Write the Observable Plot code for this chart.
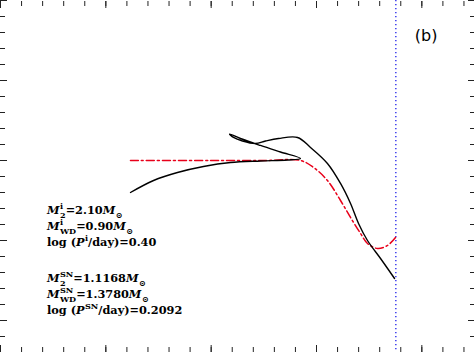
<!DOCTYPE html>
<html>
<head>
<meta charset="utf-8">
<script src="https://cdn.jsdelivr.net/npm/d3@7"></script>
<script src="https://cdn.jsdelivr.net/npm/@observablehq/plot@0.6"></script>
<style>
  html, body { margin: 0; padding: 0; background: #fff; }
  #chart { width: 474px; height: 352px; overflow: hidden; }
</style>
</head>
<body>
<div id="chart"></div>
<script>
// ---- data ----
const blackX = [1.234, 1.453, 1.680, 1.927, 2.184, 2.468, 2.725, 2.848, 2.658, 2.468, 2.278, 2.174, 2.212, 2.297, 2.421, 2.516, 2.639, 2.820, 2.943, 3.104, 3.228, 3.323, 3.399, 3.484, 3.608, 3.741];
const blackY = [1.600, 1.750, 1.850, 1.925, 1.975, 1.994, 2.006, 2.025, 2.106, 2.188, 2.275, 2.331, 2.288, 2.244, 2.213, 2.244, 2.275, 2.288, 2.163, 1.963, 1.713, 1.463, 1.213, 1.000, 0.775, 0.525];
const redX = [1.234, 2.000, 2.500, 2.848, 2.972, 3.104, 3.228, 3.323, 3.418, 3.484, 3.579, 3.674, 3.750];
const redY = [2.000, 2.000, 2.000, 2.000, 1.913, 1.750, 1.500, 1.288, 1.088, 0.963, 0.900, 0.938, 1.038];
const snX = [3.753];
const xMajor = [0, 1, 2, 3, 4];
const xMinor = [0, 0.2, 0.4, 0.6, 0.8, 1, 1.2, 1.4, 1.6, 1.8, 2, 2.2, 2.4, 2.6, 2.8, 3, 3.2, 3.4, 3.6, 3.8, 4, 4.2, 4.4];
const yMajor = [0, 1, 2, 3, 4];
const yMinor = [-0.4, -0.2, 0, 0.2, 0.4, 0.6, 0.8, 1, 1.2, 1.4, 1.6, 1.8, 2, 2.2, 2.4, 2.6, 2.8, 3, 3.2, 3.4, 3.6, 3.8, 4];
const panelLabel = "(b)";
// text segments: [text, kind]  kind: "" plain, "it" italic, "sup", "sub"
const initialLines = [
  [["M", "it"], ["i", "sup"], ["2", "sub"], ["=2.10", ""], ["M", "it"], ["\u2299", "sub"]],
  [["M", "it"], ["i", "sup"], ["WD", "sub"], ["=0.90", ""], ["M", "it"], ["\u2299", "sub"]],
  [["log (", ""], ["P", "it"], ["i", "sup"], ["/day)=0.40", ""]]
];
const snLines = [
  [["M", "it"], ["SN", "sup"], ["2", "sub"], ["=1.1168", ""], ["M", "it"], ["\u2299", "sub"]],
  [["M", "it"], ["SN", "sup"], ["WD", "sub"], ["=1.3780", ""], ["M", "it"], ["\u2299", "sub"]],
  [["log (", ""], ["P", "it"], ["SN", "sup"], ["/day)=0.2092", ""]]
];

const black = blackX.map((x, i) => ({x, y: blackY[i]}));
const red = redX.map((x, i) => ({x, y: redY[i]}));

const tickAxes = [];
for (const [ticks, size] of [[xMinor, -5], [xMajor, -7]]) {
  for (const anchor of ["top", "bottom"]) {
    tickAxes.push(Plot.axisX(ticks, {anchor, tickSize: size, tickFormat: () => "", label: null, stroke: "#222", strokeWidth: 1}));
  }
}
for (const [ticks, size] of [[yMinor, -5], [yMajor, -7]]) {
  for (const anchor of ["left", "right"]) {
    tickAxes.push(Plot.axisY(ticks, {anchor, tickSize: size, tickFormat: () => "", label: null, stroke: "#222", strokeWidth: 1}));
  }
}

const chart = Plot.plot({
  width: 474,
  height: 352,
  marginTop: 0, marginBottom: 0, marginLeft: 0, marginRight: 0,
  style: {background: "#fff", overflow: "hidden"},
  x: {domain: [0, 4.5]},
  y: {domain: [-0.4, 4]},
  marks: [
    ...tickAxes,
    Plot.ruleX(snX, {stroke: "#3c3cec", strokeWidth: 1.5, strokeDasharray: "1.2,2.8"}),
    Plot.line(red, {x: "x", y: "y", stroke: "#e8001a", strokeWidth: 1.5, strokeDasharray: "8,3,2,3", curve: "catmull-rom"}),
    Plot.line(black, {x: "x", y: "y", stroke: "#000", strokeWidth: 1.4, curve: "catmull-rom"}),
    Plot.text([panelLabel], {x: 4.04, y: 3.49, text: d => d, fontSize: 16, fontFamily: "DejaVu Sans", fill: "#000", textAnchor: "middle", lineAnchor: "bottom"})
  ]
});
document.getElementById("chart").append(chart);

// annotation block with stacked super/subscripts, placed through the plot's scales
const xs = chart.scale("x"), ys = chart.scale("y");
const svg = d3.select(chart);
const g = svg.append("g")
  .attr("font-family", "'DejaVu Serif', serif")
  .attr("font-weight", "bold")
  .attr("text-anchor", "start")
  .attr("fill", "#000");
const fs = 11.3;

function drawLine(segs, x0, y0) {
  let x = x0, supStart = null, supW = 0, prevKind = null;
  for (const [t, kind] of segs) {
    let sx = x, dy = 0, size = fs;
    const stacked = kind === "sub" && prevKind === "sup";
    if (kind === "sup") { dy = -0.42 * fs; size = 0.72 * fs; supStart = x; }
    if (kind === "sub") { dy = 0.32 * fs; size = 0.72 * fs; if (stacked) sx = supStart; }
    const el = g.append("text")
      .attr("x", sx).attr("y", y0 + dy)
      .attr("font-size", size)
      .attr("text-anchor", "start")
      .attr("font-style", kind === "it" ? "italic" : null)
      .text(t);
    const w = el.node().getComputedTextLength();
    if (kind === "sup") supW = w;
    x = stacked ? Math.max(supStart + supW, sx + w) : sx + w;
    if (kind === "it") x += 0.5;
    prevKind = kind;
  }
}

const textX = xs.apply(0.446);
const block1 = ys.apply(1.325);
const block2 = ys.apply(0.475);
initialLines.forEach((segs, i) => drawLine(segs, textX, block1 + i * 16));
snLines.forEach((segs, i) => drawLine(segs, textX, block2 + i * 16));
</script>
</body>
</html>
